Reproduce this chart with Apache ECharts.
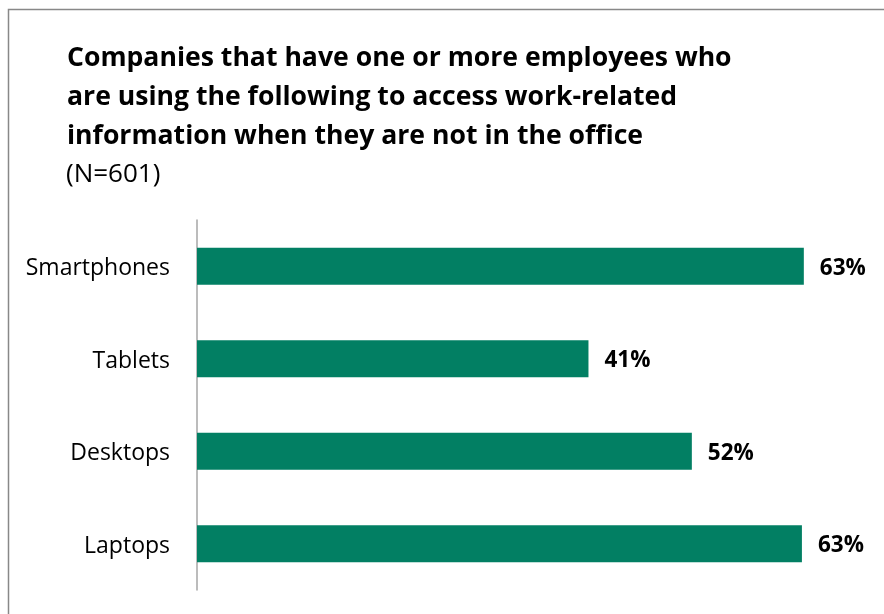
<!DOCTYPE html>
<html>
<head>
<meta charset="utf-8">
<script src="https://cdn.jsdelivr.net/npm/echarts@6/dist/echarts.min.js"></script>
<style>html,body{margin:0;padding:0;background:#fff}#c{width:884px;height:614px}</style>
</head>
<body>
<div id="c"></div>
<script>
const titleLines = ['Companies that have one or more employees who', 'are using the following to access work-related', 'information when they are not in the office'];
const subtitleText = '(N=601)';
const categories = ['Laptops', 'Desktops', 'Tablets', 'Smartphones'];
const values = [63.2, 51.7, 40.9, 63.4];

const chart = echarts.init(document.getElementById('c'), null, {renderer: 'canvas'});
const FONT = 'Open Sans';
chart.setOption({
  animation: false,
  title: [
    {text: titleLines.join('\n'), left: 67, top: 39, padding: 0, textStyle: {fontFamily: FONT, fontWeight: 'bold', fontSize: 26.6, lineHeight: 39, color: '#000'}},
    {text: subtitleText, left: 66, top: 155, padding: 0, textStyle: {fontFamily: FONT, fontWeight: 'normal', fontSize: 26, lineHeight: 39, color: '#000'}}
  ],
  graphic: [
    {type: 'rect', shape: {x: 8.5, y: 9.5, width: 900, height: 700}, style: {fill: 'none', stroke: '#888', lineWidth: 1.5}, silent: true}
  ],
  grid: {left: 197, top: 220, width: 670, height: 370, containLabel: false},
  xAxis: {type: 'value', min: 0, max: 70, show: false},
  yAxis: {
    type: 'category', data: categories,
    axisLine: {show: true, lineStyle: {color: '#a6a6a6', width: 1.5}},
    axisTick: {show: false},
    axisLabel: {margin: 27, color: '#000', formatter: v => '{a|' + v + '}',
      rich: {a: {fontFamily: FONT, fontSize: 23, color: '#000', padding: [5, 0, 0, 0]}}}
  },
  series: [{
    type: 'bar', data: values, barWidth: 37,
    itemStyle: {color: '#027f63'},
    label: {show: true, position: 'right', distance: 16, offset: [0, 2], fontFamily: FONT, fontWeight: 'bold', fontSize: 22.5, color: '#000',
      formatter: p => Math.round(p.value) + '%'}
  }]
});
</script>
</body>
</html>
